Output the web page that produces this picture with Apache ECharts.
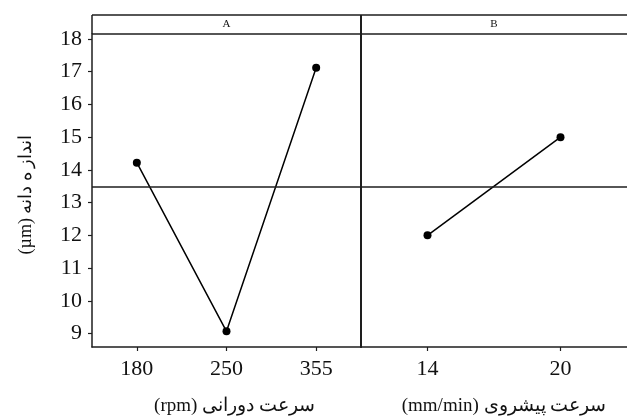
<!DOCTYPE html>
<html>
<head>
<meta charset="utf-8">
<script src="https://cdn.jsdelivr.net/npm/echarts@6/dist/echarts.min.js"></script>
<style>html,body{margin:0;padding:0;background:#fff}#c{width:627px;height:418px}</style>
</head>
<body>
<div id="c" dir="rtl"></div>
<script>
// ---- data ----
const catsA = ['180', '250', '355'];
const valsA = [14.22, 9.07, 17.12];
const catsB = ['14', '20'];
const valsB = [12.0, 15.0];
const grandMean = 13.48;
const yTicks = [9, 10, 11, 12, 13, 14, 15, 16, 17, 18];
const panelNames = ['A', 'B'];
const xTitleA = 'سرعت دورانی (rpm)';
const xTitleB = 'سرعت پیشروی (mm/min)';
const yTitle = 'انداز ه دانه (µm)';

// ---- styling ----
const ink = '#1e1e1e';
const serif = "'Liberation Serif','DejaVu Serif',serif";
const yMin = 8.59, yMax = 18.15;

const chart = echarts.init(document.getElementById('c'), null, {renderer: 'canvas'});

function xAxis(idx, cats, title, shift) {
  return {
    type: 'category', gridIndex: idx, data: cats, boundaryGap: true,
    axisLine: {show: true, lineStyle: {color: ink, width: 1.5}},
    axisTick: {show: true, alignWithLabel: true, length: 4, lineStyle: {color: ink, width: 1.2}},
    axisLabel: {color: '#111', fontFamily: serif, fontSize: 22, margin: 11},
    splitLine: {show: false},
    name: title, nameLocation: 'middle', nameGap: 50,
    nameTextStyle: {color: '#111', fontFamily: serif, fontSize: 19, padding: [0, 0, 0, shift]}
  };
}

function lineSeries(idx, vals) {
  return {
    type: 'line', xAxisIndex: idx, yAxisIndex: idx, data: vals,
    symbol: 'circle', symbolSize: 8,
    itemStyle: {color: '#000'},
    lineStyle: {color: '#000', width: 1.5},
    silent: true, animation: false,
    markLine: {
      silent: true, symbol: 'none', animation: false,
      label: {show: false},
      lineStyle: {color: ink, width: 1.5, type: 'solid'},
      data: [{yAxis: grandMean}]
    }
  };
}

const stripTop = 15, stripBot = 34, leftX = 92, divX = 361;

chart.setOption({
  animation: false,
  backgroundColor: '#fff',
  grid: [
    {left: leftX, right: 627 - divX, top: stripBot, bottom: 71, outerBoundsMode: 'none', containLabel: false},
    {left: divX, right: 0, top: stripBot, bottom: 71, outerBoundsMode: 'none', containLabel: false}
  ],
  xAxis: [xAxis(0, catsA, xTitleA, 16), xAxis(1, catsB, xTitleB, 20)],
  yAxis: [
    {
      type: 'value', gridIndex: 0, min: yMin, max: yMax,
      axisLine: {show: true, lineStyle: {color: ink, width: 1.5}},
      axisTick: {show: true, length: 4, customValues: yTicks, lineStyle: {color: ink, width: 1.2}},
      axisLabel: {color: '#111', fontFamily: serif, fontSize: 22, margin: 10, customValues: yTicks},
      splitLine: {show: false},
      name: yTitle, nameLocation: 'middle', nameGap: 57,
      nameTextStyle: {color: '#111', fontFamily: serif, fontSize: 18, padding: [0, 8, 0, 0]}
    },
    {
      type: 'value', gridIndex: 1, min: yMin, max: yMax,
      axisLine: {show: true, lineStyle: {color: ink, width: 2}},
      axisTick: {show: false}, axisLabel: {show: false}, splitLine: {show: false}
    }
  ],
  series: [lineSeries(0, valsA), lineSeries(1, valsB)],
  graphic: [
    {type: 'line', shape: {x1: leftX, y1: stripTop, x2: 627, y2: stripTop}, style: {stroke: ink, lineWidth: 1.5}},
    {type: 'line', shape: {x1: leftX, y1: stripBot, x2: 627, y2: stripBot}, style: {stroke: ink, lineWidth: 1.5}},
    {type: 'line', shape: {x1: leftX, y1: stripTop, x2: leftX, y2: stripBot}, style: {stroke: ink, lineWidth: 1.5}},
    {type: 'line', shape: {x1: divX, y1: stripTop, x2: divX, y2: stripBot}, style: {stroke: ink, lineWidth: 2}},
    {type: 'text', x: (leftX + divX) / 2, y: (stripTop + stripBot) / 2,
     style: {text: panelNames[0], fill: '#111', font: "11px 'Liberation Serif', serif", textAlign: 'center', textVerticalAlign: 'middle'}},
    {type: 'text', x: (divX + 627) / 2, y: (stripTop + stripBot) / 2,
     style: {text: panelNames[1], fill: '#111', font: "11px 'Liberation Serif', serif", textAlign: 'center', textVerticalAlign: 'middle'}}
  ]
});
</script>
</body>
</html>
